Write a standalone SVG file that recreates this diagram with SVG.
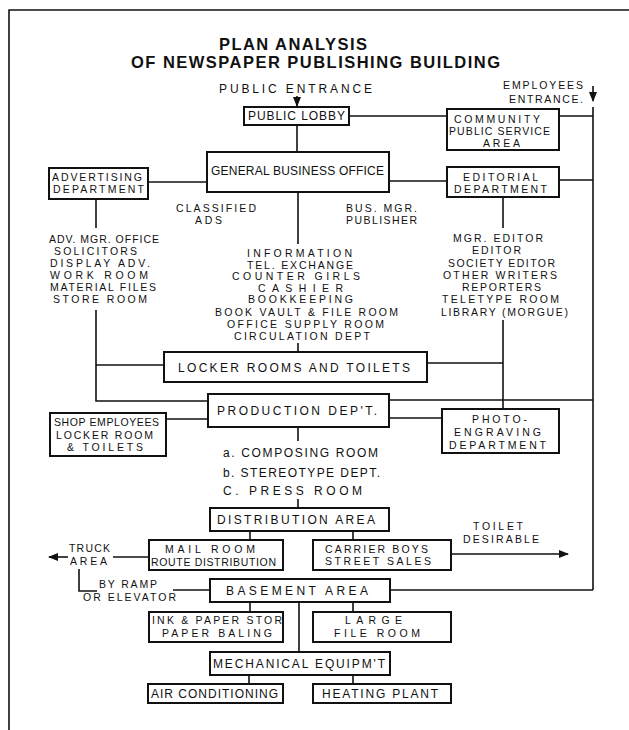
<svg xmlns="http://www.w3.org/2000/svg" width="629" height="730" viewBox="0 0 629 730">
<style>
.bg{fill:#ffffff}
.frame{fill:none;stroke:#111;stroke-width:1.6}
.box{fill:#ffffff;stroke:#111;stroke-width:2}
.ln{fill:none;stroke:#111;stroke-width:1.6}
text{font-family:"Liberation Sans","DejaVu Sans",sans-serif;font-size:12px;fill:#111}
.s{font-size:10.5px}
.title{font-size:16.5px;font-weight:bold}
</style>
<defs>
<marker id="ah" markerUnits="userSpaceOnUse" markerWidth="10" markerHeight="8" refX="9" refY="4" orient="auto">
<path d="M0,0 L10,4 L0,8 Z" fill="#111"/>
</marker>
</defs>
<rect class="bg" x="0" y="0" width="629" height="730"/>
<path class="frame" d="M9,730 L9,10 L629,10"/>
<g id="title">
<text class="title" x="219" y="50" textLength="148" lengthAdjust="spacing">PLAN ANALYSIS</text>
<text class="title" x="131" y="68" textLength="369" lengthAdjust="spacing">OF NEWSPAPER PUBLISHING BUILDING</text>
</g>
<g id="connectors">
<line class="ln" x1="297" y1="96" x2="297" y2="106" marker-end="url(#ah)"/>
<line class="ln" x1="593" y1="86" x2="593" y2="101" marker-end="url(#ah)"/>
<line class="ln" x1="593" y1="107" x2="593" y2="590"/>
<line class="ln" x1="297" y1="125" x2="297" y2="152"/>
<line class="ln" x1="349" y1="116" x2="447" y2="116"/>
<line class="ln" x1="559" y1="116" x2="593" y2="116"/>
<line class="ln" x1="148" y1="182" x2="207" y2="182"/>
<line class="ln" x1="389" y1="181" x2="447" y2="181"/>
<line class="ln" x1="559" y1="180" x2="593" y2="180"/>
<line class="ln" x1="96" y1="199" x2="96" y2="228"/>
<line class="ln" x1="298" y1="192" x2="298" y2="244"/>
<line class="ln" x1="503" y1="197" x2="503" y2="228"/>
<polyline class="ln" points="96,310 96,401 208,401"/>
<line class="ln" x1="96" y1="365" x2="164" y2="365"/>
<line class="ln" x1="298" y1="343" x2="298" y2="352"/>
<line class="ln" x1="503" y1="320" x2="503" y2="409"/>
<line class="ln" x1="427" y1="363" x2="503" y2="363"/>
<line class="ln" x1="389" y1="400" x2="593" y2="400"/>
<line class="ln" x1="389" y1="418" x2="442" y2="418"/>
<line class="ln" x1="166" y1="419" x2="208" y2="419"/>
<line class="ln" x1="298" y1="427" x2="298" y2="441"/>
<line class="ln" x1="298" y1="499" x2="298" y2="508"/>
<line class="ln" x1="250" y1="531" x2="250" y2="540"/>
<line class="ln" x1="353" y1="531" x2="353" y2="540"/>
<line class="ln" x1="113" y1="557" x2="149" y2="557"/>
<line class="ln" x1="68" y1="557" x2="49" y2="557" marker-end="url(#ah)"/>
<line class="ln" x1="451" y1="554" x2="568" y2="554" marker-end="url(#ah)"/>
<polyline class="ln" points="79,569 79,591 97,591"/>
<line class="ln" x1="173" y1="590" x2="210" y2="590"/>
<line class="ln" x1="390" y1="590" x2="593" y2="590"/>
<line class="ln" x1="250" y1="602" x2="250" y2="612"/>
<line class="ln" x1="353" y1="602" x2="353" y2="612"/>
<line class="ln" x1="299" y1="602" x2="299" y2="652"/>
<line class="ln" x1="249" y1="675" x2="249" y2="684"/>
<line class="ln" x1="353" y1="675" x2="353" y2="684"/>
</g>
<g id="labels">
<text x="219" y="93" textLength="153" lengthAdjust="spacing">PUBLIC ENTRANCE</text>
<text class="s" x="503" y="89" textLength="80" lengthAdjust="spacing">EMPLOYEES</text>
<text class="s" x="509" y="103" textLength="74" lengthAdjust="spacing">ENTRANCE.</text>
<text class="s" x="176" y="212" textLength="80" lengthAdjust="spacing">CLASSIFIED</text>
<text class="s" x="195" y="224" textLength="27" lengthAdjust="spacing">ADS</text>
<text class="s" x="346" y="212" textLength="71" lengthAdjust="spacing">BUS. MGR.</text>
<text class="s" x="346" y="224" textLength="71" lengthAdjust="spacing">PUBLISHER</text>
</g>
<g id="adv-list">
<text class="s" x="49" y="243" textLength="110" lengthAdjust="spacing">ADV. MGR. OFFICE</text>
<text class="s" x="54" y="255" textLength="83" lengthAdjust="spacing">SOLICITORS</text>
<text class="s" x="50" y="267" textLength="100" lengthAdjust="spacing">DISPLAY ADV.</text>
<text class="s" x="50" y="279" textLength="98" lengthAdjust="spacing">WORK ROOM</text>
<text class="s" x="50" y="291" textLength="106" lengthAdjust="spacing">MATERIAL FILES</text>
<text class="s" x="53" y="303" textLength="94" lengthAdjust="spacing">STORE ROOM</text>
</g>
<g id="business-list">
<text class="s" x="247" y="257" textLength="105" lengthAdjust="spacing">INFORMATION</text>
<text class="s" x="247" y="268.5" textLength="106" lengthAdjust="spacing">TEL. EXCHANGE</text>
<text class="s" x="232" y="280" textLength="128" lengthAdjust="spacing">COUNTER GIRLS</text>
<text class="s" x="258" y="291.5" textLength="85" lengthAdjust="spacing">CASHIER</text>
<text class="s" x="248" y="303" textLength="105" lengthAdjust="spacing">BOOKKEEPING</text>
<text class="s" x="215" y="315.5" textLength="183" lengthAdjust="spacing">BOOK VAULT &amp; FILE ROOM</text>
<text class="s" x="227" y="328" textLength="157" lengthAdjust="spacing">OFFICE SUPPLY ROOM</text>
<text class="s" x="234" y="340" textLength="136" lengthAdjust="spacing">CIRCULATION DEPT</text>
</g>
<g id="editorial-list">
<text class="s" x="453" y="242" textLength="90" lengthAdjust="spacing">MGR. EDITOR</text>
<text class="s" x="472" y="254" textLength="49" lengthAdjust="spacing">EDITOR</text>
<text class="s" x="448" y="266.5" textLength="107" lengthAdjust="spacing">SOCIETY EDITOR</text>
<text class="s" x="443" y="278.5" textLength="114" lengthAdjust="spacing">OTHER WRITERS</text>
<text class="s" x="462" y="291" textLength="79" lengthAdjust="spacing">REPORTERS</text>
<text class="s" x="442" y="303" textLength="117" lengthAdjust="spacing">TELETYPE ROOM</text>
<text class="s" x="441" y="315.5" textLength="127" lengthAdjust="spacing">LIBRARY (MORGUE)</text>
</g>
<g id="production-list">
<text x="223" y="457" textLength="155" lengthAdjust="spacing">a. COMPOSING ROOM</text>
<text x="223" y="477" textLength="157" lengthAdjust="spacing">b. STEREOTYPE DEPT.</text>
<text x="223" y="495" textLength="139" lengthAdjust="spacing">C.   PRESS ROOM</text>
</g>
<g id="extra-labels">
<text class="s" x="473" y="530" textLength="50" lengthAdjust="spacing">TOILET</text>
<text class="s" x="463" y="543" textLength="76" lengthAdjust="spacing">DESIRABLE</text>
<text class="s" x="69" y="552" textLength="41" lengthAdjust="spacing">TRUCK</text>
<text class="s" x="70" y="565" textLength="37" lengthAdjust="spacing">AREA</text>
<text class="s" x="99" y="588" textLength="58" lengthAdjust="spacing">BY RAMP</text>
<text class="s" x="83" y="601" textLength="93" lengthAdjust="spacing">OR ELEVATOR</text>
</g>
<g id="public-lobby">
<rect class="box" x="244" y="107" width="105" height="18"/>
<text x="248" y="120" textLength="97" lengthAdjust="spacing">PUBLIC LOBBY</text>
</g>
<g id="community">
<rect class="box" x="447" y="109" width="112" height="41"/>
<text class="s" x="454" y="123" textLength="86" lengthAdjust="spacing">COMMUNITY</text>
<text class="s" x="449" y="135" textLength="101" lengthAdjust="spacing">PUBLIC SERVICE</text>
<text class="s" x="483" y="147" textLength="37" lengthAdjust="spacing">AREA</text>
</g>
<g id="general-business">
<rect class="box" x="207" y="152" width="182" height="40"/>
<text x="211" y="175" textLength="173" lengthAdjust="spacing">GENERAL BUSINESS OFFICE</text>
</g>
<g id="advertising">
<rect class="box" x="49" y="168" width="99" height="31"/>
<text class="s" x="52" y="181" textLength="90" lengthAdjust="spacing">ADVERTISING</text>
<text class="s" x="53" y="193" textLength="91" lengthAdjust="spacing">DEPARTMENT</text>
</g>
<g id="editorial">
<rect class="box" x="447" y="167" width="112" height="30"/>
<text class="s" x="463" y="181" textLength="75" lengthAdjust="spacing">EDITORIAL</text>
<text class="s" x="454" y="193" textLength="93" lengthAdjust="spacing">DEPARTMENT</text>
</g>
<g id="locker">
<rect class="box" x="164" y="352" width="263" height="30"/>
<text x="178" y="372" textLength="232" lengthAdjust="spacing">LOCKER ROOMS AND TOILETS</text>
</g>
<g id="production">
<rect class="box" x="208" y="394" width="181" height="33"/>
<text x="217" y="415" textLength="160" lengthAdjust="spacing">PRODUCTION DEP'T.</text>
</g>
<g id="shop">
<rect class="box" x="50" y="413" width="116" height="43"/>
<text class="s" x="54" y="426" textLength="105" lengthAdjust="spacing">SHOP EMPLOYEES</text>
<text class="s" x="56" y="438.5" textLength="97" lengthAdjust="spacing">LOCKER ROOM</text>
<text class="s" x="67" y="451" textLength="76" lengthAdjust="spacing">&amp; TOILETS</text>
</g>
<g id="photo">
<rect class="box" x="442" y="409" width="117" height="44"/>
<text class="s" x="472" y="423" textLength="55" lengthAdjust="spacing">PHOTO-</text>
<text class="s" x="454" y="436" textLength="87" lengthAdjust="spacing">ENGRAVING</text>
<text class="s" x="449" y="449" textLength="97" lengthAdjust="spacing">DEPARTMENT</text>
</g>
<g id="distribution">
<rect class="box" x="210" y="508" width="179" height="23"/>
<text x="217" y="524" textLength="158" lengthAdjust="spacing">DISTRIBUTION AREA</text>
</g>
<g id="mail-room">
<rect class="box" x="149" y="540" width="134" height="30"/>
<text class="s" x="165" y="553" textLength="90" lengthAdjust="spacing">MAIL ROOM</text>
<text class="s" x="151" y="565.5" textLength="125" lengthAdjust="spacing">ROUTE DISTRIBUTION</text>
</g>
<g id="carrier">
<rect class="box" x="313" y="540" width="138" height="30"/>
<text class="s" x="325" y="552.5" textLength="103" lengthAdjust="spacing">CARRIER BOYS</text>
<text class="s" x="325" y="565" textLength="106" lengthAdjust="spacing">STREET SALES</text>
</g>
<g id="basement">
<rect class="box" x="210" y="579" width="180" height="23"/>
<text x="226" y="595" textLength="142" lengthAdjust="spacing">BASEMENT AREA</text>
</g>
<g id="ink-paper">
<rect class="box" x="149" y="612" width="134" height="30"/>
<text class="s" x="152" y="624" textLength="130" lengthAdjust="spacing">INK &amp; PAPER STOR</text>
<text class="s" x="162" y="636.5" textLength="110" lengthAdjust="spacing">PAPER BALING</text>
</g>
<g id="large-file">
<rect class="box" x="313" y="612" width="138" height="30"/>
<text class="s" x="345" y="624" textLength="57" lengthAdjust="spacing">LARGE</text>
<text class="s" x="334" y="636.5" textLength="86" lengthAdjust="spacing">FILE ROOM</text>
</g>
<g id="mechanical">
<rect class="box" x="210" y="652" width="180" height="23"/>
<text x="213" y="668" textLength="172" lengthAdjust="spacing">MECHANICAL EQUIPM'T</text>
</g>
<g id="air-conditioning">
<rect class="box" x="148" y="684" width="135" height="19"/>
<text x="151" y="698" textLength="127" lengthAdjust="spacing">AIR CONDITIONING</text>
</g>
<g id="heating">
<rect class="box" x="313" y="684" width="138" height="19"/>
<text x="322" y="698" textLength="116" lengthAdjust="spacing">HEATING PLANT</text>
</g>
</svg>
